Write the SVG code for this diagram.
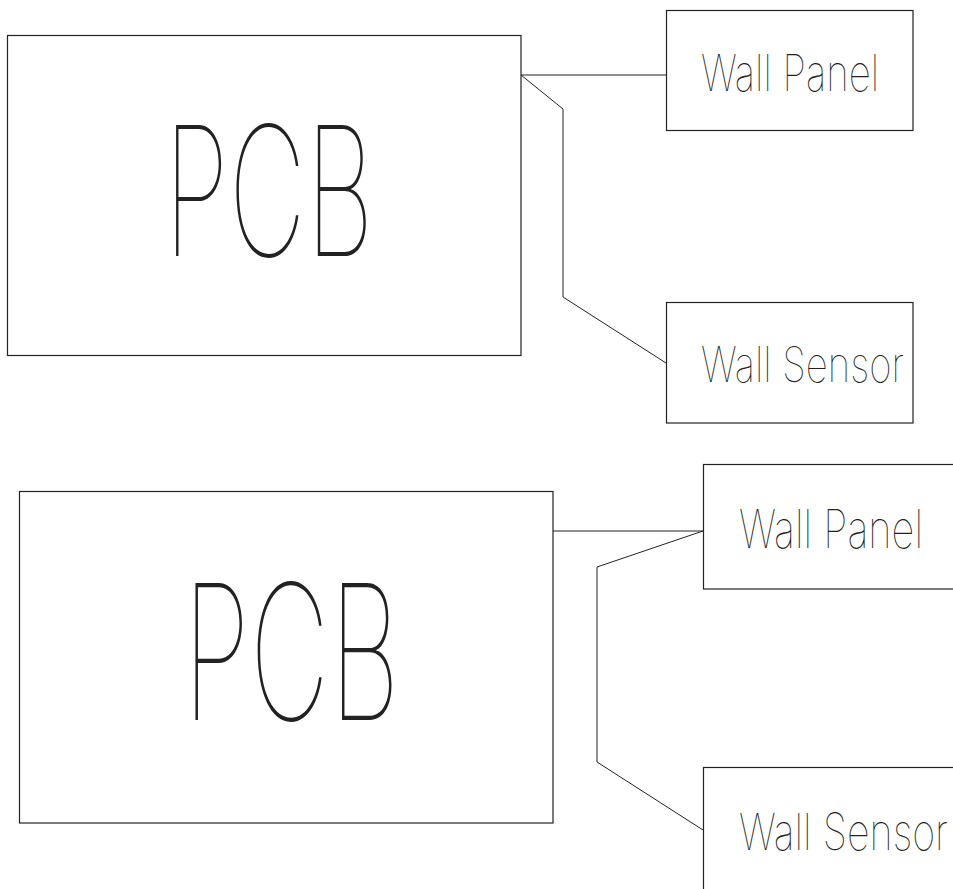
<svg xmlns="http://www.w3.org/2000/svg" width="953" height="889" viewBox="0 0 953 889">
<style>
.box{fill:none;stroke:#222;stroke-width:1.2}
.wire{fill:none;stroke:#222;stroke-width:1}
.t{font-family:Inter,"DejaVu Sans","Liberation Sans",sans-serif;font-weight:100;fill:#222}
</style>
<rect width="953" height="889" fill="#fff"/>
<g id="connectors">
<line class="wire" x1="521" y1="75" x2="666" y2="75"/>
<polyline class="wire" points="521,75 563,109 563,297 666,363"/>
<line class="wire" x1="553" y1="531" x2="703" y2="531"/>
<polyline class="wire" points="703,531 597,567 597,762 703,830"/>
</g>
<g id="pcb1">
<rect class="box" x="7.5" y="35.5" width="513.5" height="320"/>
<text class="t" x="164" y="256" font-size="180" textLength="210" lengthAdjust="spacingAndGlyphs">PCB</text>
</g>
<g id="wallpanel1">
<rect class="box" x="666.5" y="10.5" width="246.5" height="120"/>
<text class="t" x="701" y="91" font-size="51" textLength="178" lengthAdjust="spacingAndGlyphs">Wall Panel</text>
</g>
<g id="wallsensor1">
<rect class="box" x="666.5" y="302.5" width="246.5" height="120.5"/>
<text class="t" x="701" y="382" font-size="49" textLength="203" lengthAdjust="spacingAndGlyphs">Wall Sensor</text>
</g>
<g id="pcb2">
<rect class="box" x="19.5" y="491.5" width="533.5" height="331.5"/>
<text class="t" x="183" y="720" font-size="188" textLength="217" lengthAdjust="spacingAndGlyphs">PCB</text>
</g>
<g id="wallpanel2">
<rect class="box" x="703.5" y="464.5" width="260" height="124.5"/>
<text class="t" x="739" y="548" font-size="53" textLength="184" lengthAdjust="spacingAndGlyphs">Wall Panel</text>
</g>
<g id="wallsensor2">
<rect class="box" x="703.5" y="767.5" width="260" height="140"/>
<text class="t" x="739" y="850" font-size="51" textLength="209" lengthAdjust="spacingAndGlyphs">Wall Sensor</text>
</g>
</svg>
